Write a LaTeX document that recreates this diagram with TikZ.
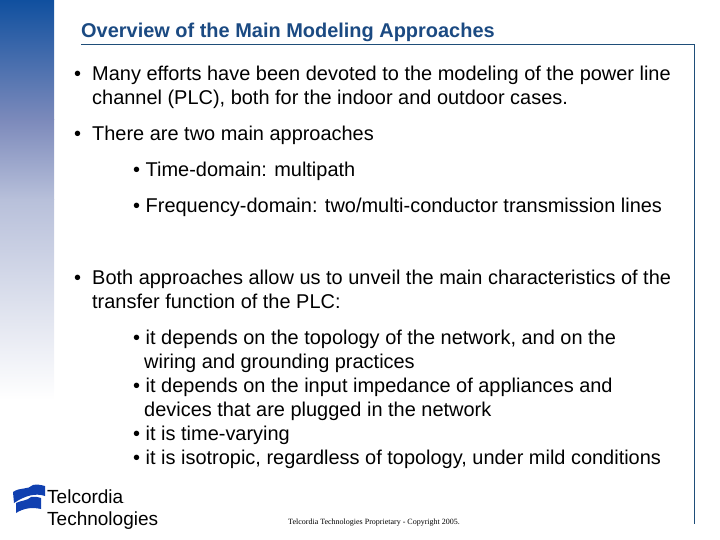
\documentclass[tikz,border=0pt]{standalone}
\usepackage{fontspec}
\setmainfont{Liberation Sans}
\usetikzlibrary{positioning}
\definecolor{telblue}{HTML}{10509F}
\definecolor{midblue}{HTML}{7C8ABB}
\definecolor{paleblue}{HTML}{B8C0DA}
\definecolor{titleblue}{HTML}{1B4A82}
\definecolor{linkblue}{HTML}{1F4E79}
\definecolor{logoblue}{HTML}{1040B0}
\begin{document}
\begin{tikzpicture}[x=1pt,y=-1pt,
        bodytext/.style = {anchor=base west,inner sep=0pt,font=\fontsize{19.95}{20}\selectfont},
        titletext/.style = {anchor=base west,inner sep=0pt,text=titleblue,font=\fontsize{19.95}{20}\selectfont\bfseries},
        logotext/.style = {anchor=base west,inner sep=0pt,font=\fontsize{19}{19}\selectfont}
        ]
        \useasboundingbox (0,0) rectangle (720,540);

        %band
        \shade[top color=telblue,bottom color=midblue] (0,0) rectangle (54,120);
        \shade[top color=midblue,bottom color=paleblue] (0,120) rectangle (54,200);
        \shade[top color=paleblue,bottom color=white] (0,200) rectangle (54,400);
        %frame
        \draw[linkblue,line width=.8pt] (81,44.5) -- (694.5,44.5) -- (694.5,524);

        %title
        \node[titletext] (title) at (81,37.5) {Overview of the Main Modeling Approaches};

        %body
        \node[bodytext] (b1) at (74,80.5) {•};
        \node[bodytext] (t1a) at (92,80.5) {Many efforts have been devoted to the modeling of the power line};
        \node[bodytext] (t1b) at (92,104.5) {channel (PLC), both for the indoor and outdoor cases.};
        \node[bodytext] (b2) at (74,140.5) {•};
        \node[bodytext] (t2) at (92,140.5) {There are two main approaches};
        \node[bodytext] (s1) at (133,176.5) {• Time-domain: multipath};
        \node[bodytext] (s2) at (133,212.5) {• Frequency-domain: two/multi-conductor transmission lines};
        \node[bodytext] (b3) at (74,284) {•};
        \node[bodytext] (t3a) at (92,284) {Both approaches allow us to unveil the main characteristics of the};
        \node[bodytext] (t3b) at (92,308) {transfer function of the PLC:};
        \node[bodytext] (p1a) at (133,344) {• it depends on the topology of the network, and on the};
        \node[bodytext] (p1b) at (144,368) {wiring and grounding practices};
        \node[bodytext] (p2a) at (133,392) {• it depends on the input impedance of appliances and};
        \node[bodytext] (p2b) at (144,416) {devices that are plugged in the network};
        \node[bodytext] (p3) at (133,440) {• it is time-varying};
        \node[bodytext] (p4) at (133,464) {• it is isotropic, regardless of topology, under mild conditions};

        %logo
        \fill[logoblue] (13,492) .. controls (20,487) and (28,490) .. (33,485) .. controls (37,484) and (41,485) .. (45,486) -- (45,496) .. controls (36,493) and (26,495) .. (14,503) -- cycle;
        \fill[logoblue] (16,503) .. controls (22,500) and (27,501) .. (31,497) .. controls (34,496) and (37,497) .. (41,498) -- (41,509) .. controls (32,507) and (24,508) .. (16,513) -- cycle;
        \node[logotext] (logoa) at (47,503) {Telcordia{\fontsize{6}{6}\selectfont.}};
        \node[logotext] (logob) at (47,525) {Technologies};

        %footer
        \node[anchor=base west,inner sep=0pt,font=\fontsize{8}{8}\selectfont\fontspec{Liberation Serif}] (foot) at (288,524) {Telcordia Technologies Proprietary - Copyright 2005.};
\end{tikzpicture}
\end{document}
